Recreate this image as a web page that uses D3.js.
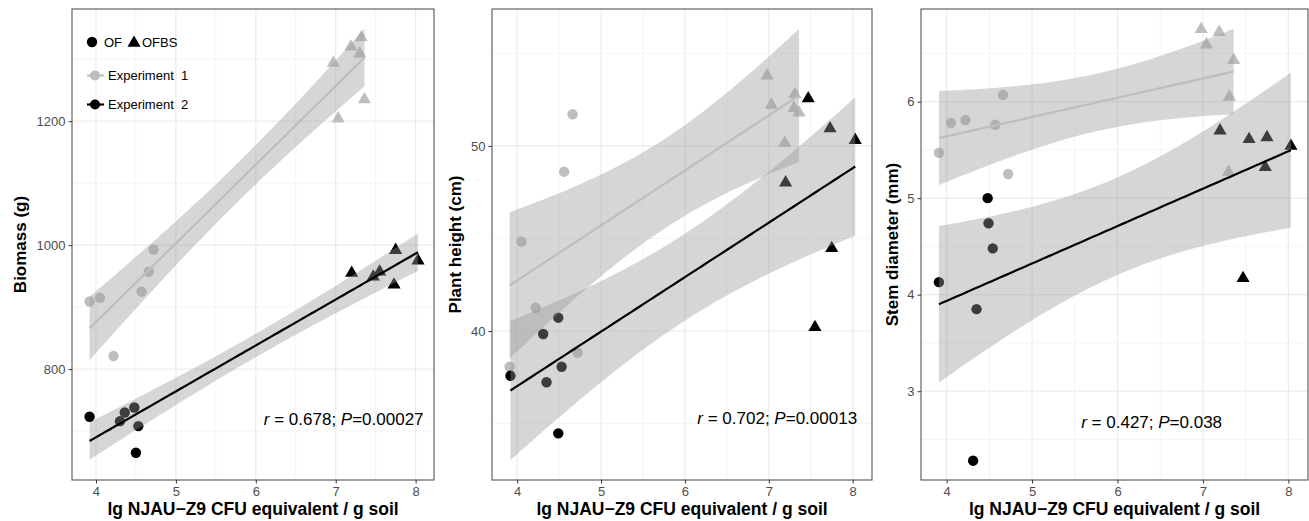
<!DOCTYPE html>
<html>
<head>
<meta charset="utf-8">
<script src="https://cdn.jsdelivr.net/npm/d3@7"></script>
<style>
  body { margin: 0; background: #fff; }
  text { font-family: "Liberation Sans", Arial, Helvetica, sans-serif; }
</style>
</head>
<body>
<div id="chart"></div>
<script>
var width = 1309,
    height = 521;

// ---- data ----
var treatments = ["OF", "OFBS"];
var experiments = ["Experiment  1", "Experiment  2"];
var xTicks = [4, 5, 6, 7, 8];

// panel 1: biomass (g)
var bio_e1_of_x   = [3.92, 4.05, 4.22, 4.57, 4.66, 4.72];
var bio_e1_of_y   = [909, 915, 821, 925, 957, 993];
var bio_e1_ofbs_x = [6.97, 7.03, 7.19, 7.30, 7.32, 7.36];
var bio_e1_ofbs_y = [1294, 1204, 1320, 1309, 1335, 1235];
var bio_e2_of_x   = [3.92, 4.30, 4.36, 4.48, 4.50, 4.53];
var bio_e2_of_y   = [723, 716, 730, 738, 665, 708];
var bio_e2_ofbs_x = [7.20, 7.47, 7.55, 7.73, 7.75, 8.03];
var bio_e2_ofbs_y = [955, 949, 957, 936, 992, 975];
var bio_ticks = [800, 1000, 1200];

// panel 2: plant height (cm)
var hgt_e1_of_x   = [3.91, 4.05, 4.22, 4.56, 4.66, 4.72];
var hgt_e1_of_y   = [38.07, 44.83, 41.26, 48.61, 51.71, 38.83];
var hgt_e1_ofbs_x = [6.98, 7.03, 7.19, 7.30, 7.31, 7.36];
var hgt_e1_ofbs_y = [53.80, 52.22, 50.15, 52.04, 52.79, 51.80];
var hgt_e2_of_x   = [3.92, 4.31, 4.35, 4.49, 4.49, 4.53];
var hgt_e2_of_y   = [37.58, 39.84, 37.23, 40.72, 34.47, 38.07];
var hgt_e2_ofbs_x = [7.20, 7.47, 7.55, 7.73, 7.75, 8.03];
var hgt_e2_ofbs_y = [48.02, 52.56, 40.20, 50.94, 44.47, 50.31];
var hgt_ticks = [40, 50];

// panel 3: stem diameter (mm)
var stm_e1_of_x   = [3.91, 4.05, 4.22, 4.57, 4.66, 4.72];
var stm_e1_of_y   = [5.47, 5.78, 5.81, 5.76, 6.07, 5.25];
var stm_e1_ofbs_x = [6.98, 7.04, 7.19, 7.30, 7.31, 7.36];
var stm_e1_ofbs_y = [6.75, 6.59, 6.72, 5.27, 6.05, 6.43];
var stm_e2_of_x   = [3.91, 4.31, 4.35, 4.48, 4.49, 4.54];
var stm_e2_of_y   = [4.13, 2.28, 3.85, 5.00, 4.74, 4.48];
var stm_e2_ofbs_x = [7.20, 7.47, 7.54, 7.73, 7.75, 8.03];
var stm_e2_ofbs_y = [5.70, 4.17, 5.61, 5.32, 5.63, 5.54];
var stm_ticks = [3, 4, 5, 6];

var stats = [
  { r: "0.678", p: "0.00027" },
  { r: "0.702", p: "0.00013" },
  { r: "0.427", p: "0.038" }
];

// ---- styling ----
var expColor = ["#bebebe", "#000000"];
var bandFill = "#999999", bandOpacity = 0.4;
var tick975 = 2.228; // t quantile, df = 10

function pts(xs, ys, exp, trt) {
  return xs.map(function(x, i) { return { x: x, y: ys[i], exp: exp, trt: trt }; });
}

var panels = [
  {
    left: 72, right: 434, ylab: "Biomass (g)", ylabX: 20,
    ydom: [621, 1381], yticks: bio_ticks, yminor: [700, 900, 1100, 1300],
    ann: { x: 7.10, y: 719 }, legend: true,
    data: [
      pts(bio_e1_of_x, bio_e1_of_y, 0, 0).concat(pts(bio_e1_ofbs_x, bio_e1_ofbs_y, 0, 1)),
      pts(bio_e2_of_x, bio_e2_of_y, 1, 0).concat(pts(bio_e2_ofbs_x, bio_e2_ofbs_y, 1, 1))
    ]
  },
  {
    left: 492, right: 872, ylab: "Plant height (cm)", ylabX: 455,
    ydom: [31.95, 57.4], yticks: hgt_ticks, yminor: [35, 45, 55],
    ann: { x: 7.10, y: 35.3 }, legend: false,
    data: [
      pts(hgt_e1_of_x, hgt_e1_of_y, 0, 0).concat(pts(hgt_e1_ofbs_x, hgt_e1_ofbs_y, 0, 1)),
      pts(hgt_e2_of_x, hgt_e2_of_y, 1, 0).concat(pts(hgt_e2_ofbs_x, hgt_e2_ofbs_y, 1, 1))
    ]
  },
  {
    left: 921, right: 1308, ylab: "Stem diameter (mm)", ylabX: 892,
    ydom: [2.08, 6.96], yticks: stm_ticks, yminor: [2.5, 3.5, 4.5, 5.5, 6.5],
    ann: { x: 6.40, y: 2.68 }, legend: false,
    data: [
      pts(stm_e1_of_x, stm_e1_of_y, 0, 0).concat(pts(stm_e1_ofbs_x, stm_e1_ofbs_y, 0, 1)),
      pts(stm_e2_of_x, stm_e2_of_y, 1, 0).concat(pts(stm_e2_ofbs_x, stm_e2_ofbs_y, 1, 1))
    ]
  }
];

var plotTop = 9, plotBottom = 480;

var svg = d3.select("#chart")
  .append("svg")
  .attr("width", width)
  .attr("height", height);

// linear fit with 95% confidence band (like geom_smooth(method = "lm"))
function fitLine(d) {
  var n = d.length;
  var mx = d3.mean(d, function(p) { return p.x; });
  var my = d3.mean(d, function(p) { return p.y; });
  var sxx = d3.sum(d, function(p) { return (p.x - mx) * (p.x - mx); });
  var sxy = d3.sum(d, function(p) { return (p.x - mx) * (p.y - my); });
  var b = sxy / sxx, a = my - b * mx;
  var sse = d3.sum(d, function(p) { var e = p.y - (a + b * p.x); return e * e; });
  var s = Math.sqrt(sse / (n - 2));
  var x0 = d3.min(d, function(p) { return p.x; }),
      x1 = d3.max(d, function(p) { return p.x; });
  var out = [];
  for (var i = 0; i <= 80; i++) {
    var x = x0 + (x1 - x0) * i / 80;
    var fit = a + b * x;
    var se = s * Math.sqrt(1 / n + (x - mx) * (x - mx) / sxx);
    out.push({ x: x, y: fit, lo: fit - tick975 * se, hi: fit + tick975 * se });
  }
  return out;
}

function marker(g, trt, color, cx, cy) {
  if (trt === 0) {
    g.append("circle").attr("cx", cx).attr("cy", cy).attr("r", 5.2).attr("fill", color);
  } else {
    g.append("path")
      .attr("d", d3.symbol().type(d3.symbolTriangle).size(75)())
      .attr("transform", "translate(" + cx + "," + cy + ")")
      .attr("fill", color);
  }
}

panels.forEach(function(p, pi) {
  var x = d3.scaleLinear().domain([3.70, 8.23]).range([p.left, p.right]);
  var y = d3.scaleLinear().domain(p.ydom).range([plotBottom, plotTop]);
  var g = svg.append("g");

  // grid
  var xminor = [4.5, 5.5, 6.5, 7.5];
  g.selectAll(".xmin").data(xminor).enter().append("line")
    .attr("x1", function(d) { return x(d); }).attr("x2", function(d) { return x(d); })
    .attr("y1", plotTop).attr("y2", plotBottom)
    .attr("stroke", "#f2f2f2").attr("stroke-width", 0.8);
  g.selectAll(".ymin").data(p.yminor).enter().append("line")
    .attr("x1", p.left).attr("x2", p.right)
    .attr("y1", function(d) { return y(d); }).attr("y2", function(d) { return y(d); })
    .attr("stroke", "#f2f2f2").attr("stroke-width", 0.8);
  g.selectAll(".xmaj").data(xTicks).enter().append("line")
    .attr("x1", function(d) { return x(d); }).attr("x2", function(d) { return x(d); })
    .attr("y1", plotTop).attr("y2", plotBottom)
    .attr("stroke", "#ebebeb").attr("stroke-width", 1.2);
  g.selectAll(".ymaj").data(p.yticks).enter().append("line")
    .attr("x1", p.left).attr("x2", p.right)
    .attr("y1", function(d) { return y(d); }).attr("y2", function(d) { return y(d); })
    .attr("stroke", "#ebebeb").attr("stroke-width", 1.2);

  // points first, the bands go over them
  p.data.forEach(function(grp) {
    grp.forEach(function(d) {
      marker(g, d.trt, expColor[d.exp], x(d.x), y(d.y));
    });
  });

  p.data.forEach(function(grp, gi) {
    var f = fitLine(grp);
    g.append("path")
      .datum(f)
      .attr("d", d3.area()
        .x(function(d) { return x(d.x); })
        .y0(function(d) { return y(d.lo); })
        .y1(function(d) { return y(d.hi); }))
      .attr("fill", bandFill)
      .attr("fill-opacity", bandOpacity);
    g.append("path")
      .datum(f)
      .attr("d", d3.line()
        .x(function(d) { return x(d.x); })
        .y(function(d) { return y(d.y); }))
      .attr("fill", "none")
      .attr("stroke", expColor[gi])
      .attr("stroke-width", 2.2);
  });

  // border
  g.append("rect")
    .attr("x", p.left).attr("y", plotTop)
    .attr("width", p.right - p.left).attr("height", plotBottom - plotTop)
    .attr("fill", "none").attr("stroke", "#555").attr("stroke-width", 1.1);

  // axes
  var xa = g.append("g")
    .attr("transform", "translate(0," + plotBottom + ")")
    .call(d3.axisBottom(x).tickValues(xTicks).tickSize(3.5).tickPadding(3).tickFormat(d3.format("d")));
  var ya = g.append("g")
    .attr("transform", "translate(" + p.left + ",0)")
    .call(d3.axisLeft(y).tickValues(p.yticks).tickSize(3.5).tickPadding(3).tickFormat(d3.format("d")));
  [xa, ya].forEach(function(a) {
    a.attr("font-size", 13).attr("font-family", "Liberation Sans, Arial, sans-serif");
    a.select(".domain").remove();
    a.selectAll("line").attr("stroke", "#333");
    a.selectAll("text").attr("fill", "#4d4d4d");
  });

  // titles
  g.append("text")
    .attr("x", (p.left + p.right) / 2).attr("y", 515)
    .attr("text-anchor", "middle")
    .attr("font-size", "17.5px").attr("font-weight", "bold")
    .text("lg NJAU\u2212Z9 CFU equivalent / g soil");
  g.append("text")
    .attr("transform", "translate(" + (p.ylabX + 6) + "," + ((plotTop + plotBottom) / 2) + ") rotate(-90)")
    .attr("text-anchor", "middle")
    .attr("font-size", "17px").attr("font-weight", "bold")
    .text(p.ylab);

  // r / P annotation
  var t = g.append("text")
    .attr("x", x(p.ann.x)).attr("y", y(p.ann.y) + 6)
    .attr("text-anchor", "middle")
    .attr("font-size", "17px").attr("fill", "#000");
  t.append("tspan").attr("font-style", "italic").text("r");
  t.append("tspan").text(" = " + stats[pi].r + "; ");
  t.append("tspan").attr("font-style", "italic").text("P");
  t.append("tspan").text("=" + stats[pi].p);

  if (p.legend) {
    var lg = g.append("g");
    marker(lg, 0, "#000", 92, 42);
    lg.append("text").attr("x", 104).attr("y", 46.5).attr("font-size", "13px").text(treatments[0]);
    marker(lg, 1, "#000", 134, 43);
    lg.append("text").attr("x", 142).attr("y", 46.5).attr("font-size", "13px").text(treatments[1]);
    experiments.forEach(function(e, i) {
      var ky = 75.5 + i * 29;
      lg.append("line").attr("x1", 87).attr("x2", 104).attr("y1", ky).attr("y2", ky)
        .attr("stroke", expColor[i]).attr("stroke-width", 2.2);
      lg.append("circle").attr("cx", 95).attr("cy", ky).attr("r", 5).attr("fill", expColor[i]);
      lg.append("text").attr("x", 108).attr("y", ky + 4.5).attr("font-size", "13px")
        .style("white-space", "pre").text(e);
    });
  }
});
</script>
</body>
</html>
